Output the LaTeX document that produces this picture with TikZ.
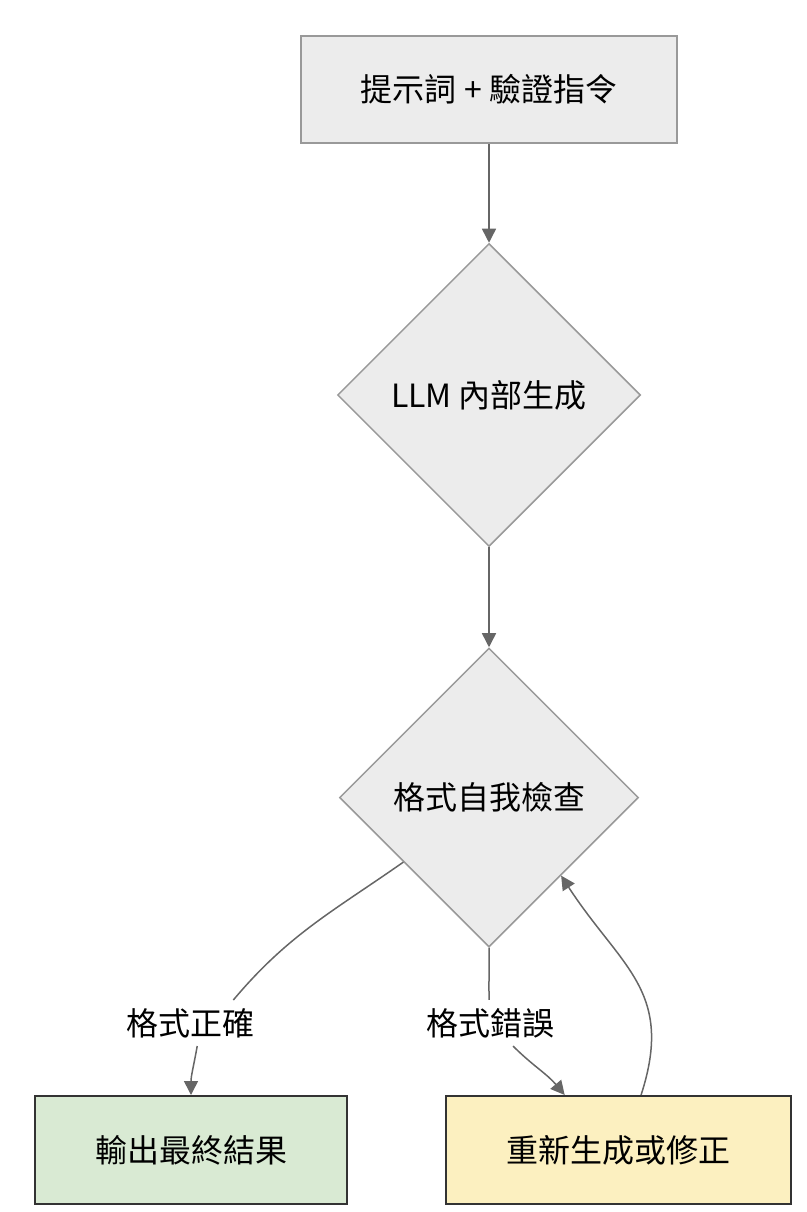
\documentclass[tikz,border=0pt]{standalone}
\usepackage{fontspec}
\setmainfont{Noto Sans CJK TC}
\usetikzlibrary{shapes.geometric,arrows.meta,calc}
\definecolor{boxgray}{HTML}{ECECEC}
\definecolor{edgegray}{HTML}{999999}
\definecolor{linegray}{HTML}{666666}
\definecolor{okgreen}{HTML}{D9EAD3}
\definecolor{fixyellow}{HTML}{FCF0C0}
\definecolor{darkline}{HTML}{333333}

\begin{document}
\begin{tikzpicture}[x=1pt, y=1pt,
  every node/.style={font=\fontsize{32pt}{38pt}\selectfont},
  box/.style={rectangle, draw=edgegray, line width=2pt, fill=boxgray},
  decision/.style={diamond, draw=edgegray, line width=1.5pt, fill=boxgray, aspect=1, inner sep=0pt, minimum size=303pt},
  result/.style={rectangle, draw=darkline, line width=2pt, minimum height=108pt},
  lbl/.style={fill=white, inner sep=8pt},
  flow/.style={draw=linegray, line width=1.5pt, -{Triangle[length=14pt,width=14pt]}},
  plain/.style={draw=linegray, line width=1.5pt}]
\useasboundingbox (0,0) rectangle (806,-1212);

\node at (489, -89.5) [box, minimum width=376pt, minimum height=107pt] (prompt) {提示詞 + 驗證指令};
\node at (489, -395) [decision] (gen) {LLM 內部生成};
\node at (489, -797.5) [decision, minimum size=299pt] (selfcheck) {格式自我檢查};

\node at (191, -1150) [result, fill=okgreen, minimum width=312pt] (output) {輸出最終結果};
\node at (618.5, -1150) [result, fill=fixyellow, minimum width=345pt] (redo) {重新生成或修正};

\node at (190, -1023) [lbl] (okl) {格式正確};
\node at (490, -1023) [lbl] (errl) {格式錯誤};

\draw[flow] (prompt) -- (gen);
\draw[flow] (gen) -- (selfcheck);

\draw[plain] ($(selfcheck.west)!.43!(selfcheck.south)$) to[out=215, in=50] ($(okl.north)!.6!(okl.north east)$);
\draw[flow] ($(okl.south)!.1!(okl.south east)$) to[out=-100, in=90] (output.north);

\draw[plain] (selfcheck.south) to[out=-88, in=92] (errl);
\draw[flow] (errl) to[out=-45, in=130] ($(redo.north west)!.345!(redo.north east)$);

\draw[flow] ($(redo.north west)!.565!(redo.north east)$) to[out=72, in=-57, looseness=1.2] ($(selfcheck.east)!.52!(selfcheck.south)$);
\end{tikzpicture}
\end{document}
